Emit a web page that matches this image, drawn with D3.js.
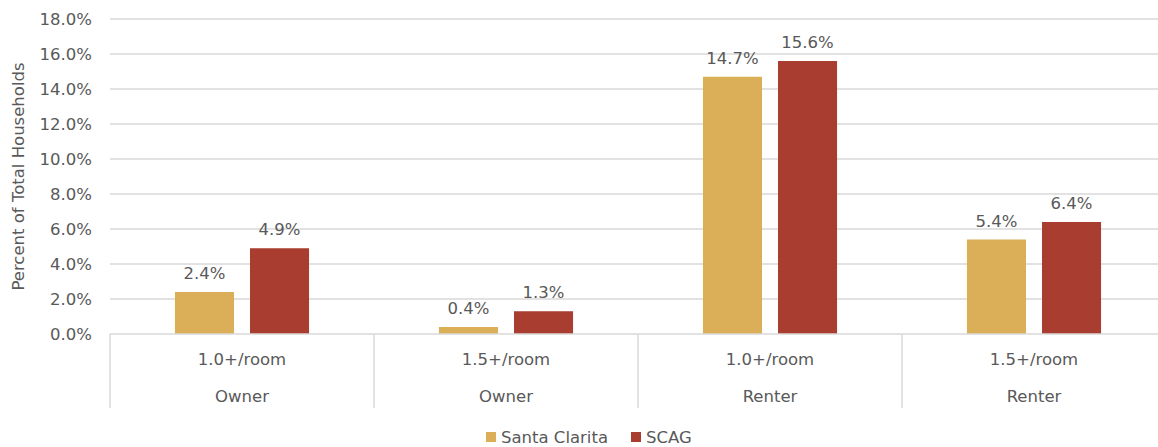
<!DOCTYPE html>
<html>
<head>
<meta charset="utf-8">
<script src="https://cdn.jsdelivr.net/npm/d3@7"></script>
<style>
  body { margin: 0; background: #fff; }
  svg { display: block; font-family: "DejaVu Sans", sans-serif; }
  .tick-label, .data-label, .cat-label, .legend-label { fill: #595959; font-size: 16.5px; }
</style>
</head>
<body>
<svg id="chart" width="1158" height="447"></svg>
<script>
// Chart data.
var tenures = ["Owner", "Owner", "Renter", "Renter"];
var crowding = ["1.0+/room", "1.5+/room", "1.0+/room", "1.5+/room"];
var seriesNames = ["Santa Clarita", "SCAG"];
var santaClarita = [2.4, 0.4, 14.7, 5.4];
var scag = [4.9, 1.3, 15.6, 6.4];
var yTicks = [0, 2, 4, 6, 8, 10, 12, 14, 16, 18];
var colors = ["#dbae58", "#a93d30"];

var svg = d3.select("#chart");

// Plot edges (the last group runs a little past the window's right edge).
var plotLeft = 110, plotRight = 1166, plotTop = 19, plotBottom = 334;

var y = d3.scaleLinear()
    .domain([0, 18])
    .range([plotBottom, plotTop]);

var x = d3.scaleBand()
    .domain(d3.range(crowding.length))
    .range([plotLeft, plotRight])
    .padding(0);

// Bars sit inside each group with a gap between the two series.
var groupWidth = x.bandwidth();
var inner = d3.scaleBand()
    .domain(d3.range(seriesNames.length))
    .range([groupWidth * 0.246, groupWidth * 0.754])
    .paddingInner(0.2133)
    .paddingOuter(0);

// Gridlines.
svg.append("g")
    .selectAll("line")
    .data(yTicks.filter(function (d) { return d > 0; }))
    .enter()
    .append("line")
    .attr("x1", plotLeft)
    .attr("x2", plotRight)
    .attr("y1", function (d) { return y(d); })
    .attr("y2", function (d) { return y(d); })
    .attr("stroke", "#d9d9d9")
    .attr("stroke-width", 1.5);

// Y tick labels.
svg.append("g")
    .selectAll("text")
    .data(yTicks)
    .enter()
    .append("text")
    .classed("tick-label", true)
    .attr("x", 92)
    .attr("y", function (d) { return y(d); })
    .attr("dy", "0.38em")
    .attr("text-anchor", "end")
    .text(function (d) { return d.toFixed(1) + "%"; });

// Y axis title.
svg.append("text")
    .attr("transform", "translate(24," + ((plotTop + plotBottom) / 2) + ") rotate(-90)")
    .attr("text-anchor", "middle")
    .attr("fill", "#595959")
    .style("font-size", "16.5px")
    .text("Percent of Total Households");

// Bars.
var rows = crowding.map(function (c, i) {
    return [santaClarita[i], scag[i]];
});

var groups = svg.append("g")
    .selectAll("g")
    .data(rows)
    .enter()
    .append("g")
    .attr("transform", function (d, i) { return "translate(" + x(i) + ",0)"; });

groups.selectAll("rect")
    .data(function (d) { return d; })
    .enter()
    .append("rect")
    .attr("x", function (d, j) { return inner(j); })
    .attr("y", function (d) { return y(d); })
    .attr("width", inner.bandwidth())
    .attr("height", function (d) { return y(0) - y(d); })
    .attr("fill", function (d, j) { return colors[j]; });

groups.selectAll("text")
    .data(function (d) { return d; })
    .enter()
    .append("text")
    .classed("data-label", true)
    .attr("x", function (d, j) { return inner(j) + inner.bandwidth() / 2; })
    .attr("y", function (d) { return y(d) - 13; })
    .attr("text-anchor", "middle")
    .text(function (d) { return d.toFixed(1) + "%"; });

// Category axis: baseline, dividers and two rows of labels.
svg.append("line")
    .attr("x1", plotLeft)
    .attr("x2", plotRight)
    .attr("y1", y(0))
    .attr("y2", y(0))
    .attr("stroke", "#d9d9d9")
    .attr("stroke-width", 1.5);

svg.append("g")
    .selectAll("line")
    .data(d3.range(crowding.length + 1))
    .enter()
    .append("line")
    .attr("x1", function (i) { return plotLeft + i * groupWidth; })
    .attr("x2", function (i) { return plotLeft + i * groupWidth; })
    .attr("y1", y(0))
    .attr("y2", 408)
    .attr("stroke", "#d9d9d9")
    .attr("stroke-width", 1.5);

svg.append("g")
    .selectAll("text")
    .data(crowding)
    .enter()
    .append("text")
    .classed("cat-label", true)
    .attr("x", function (d, i) { return x(i) + groupWidth / 2; })
    .attr("y", 365)
    .attr("text-anchor", "middle")
    .text(function (d) { return d; });

svg.append("g")
    .selectAll("text")
    .data(tenures)
    .enter()
    .append("text")
    .classed("cat-label", true)
    .attr("x", function (d, i) { return x(i) + groupWidth / 2; })
    .attr("y", 402)
    .attr("text-anchor", "middle")
    .text(function (d) { return d; });

// Legend.
var legendX = [486, 631];
var legend = svg.append("g")
    .selectAll("g")
    .data(seriesNames)
    .enter()
    .append("g")
    .attr("transform", function (d, i) { return "translate(" + legendX[i] + ",432)"; });

legend.append("rect")
    .attr("width", 10)
    .attr("height", 10)
    .attr("fill", function (d, i) { return colors[i]; });

legend.append("text")
    .classed("legend-label", true)
    .attr("x", 15)
    .attr("y", 11)
    .text(function (d) { return d; });
</script>
</body>
</html>
